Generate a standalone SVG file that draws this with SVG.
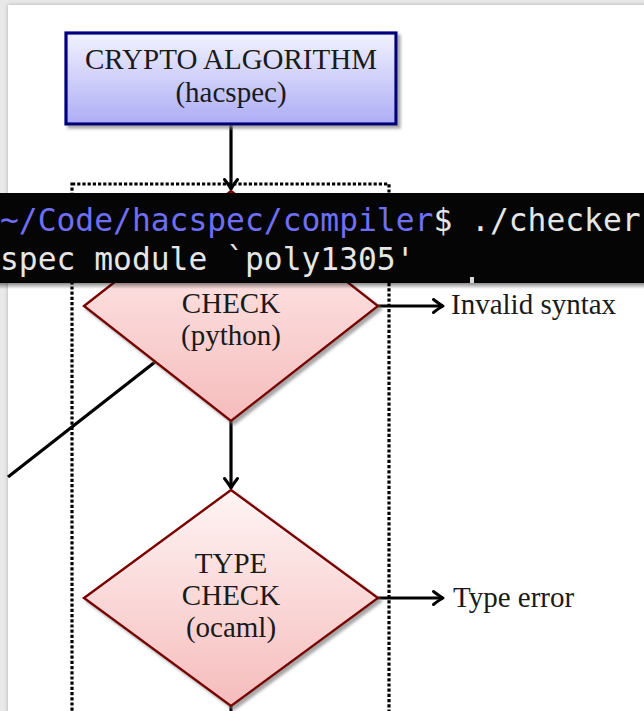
<svg xmlns="http://www.w3.org/2000/svg" width="644" height="711" viewBox="0 0 644 711">
  <defs>
    <linearGradient id="blueFill" x1="0" y1="0" x2="0" y2="1">
      <stop offset="0" stop-color="#f2f2ff"/>
      <stop offset="1" stop-color="#adadf6"/>
    </linearGradient>
    <linearGradient id="redFill" x1="0" y1="0" x2="0" y2="1">
      <stop offset="0" stop-color="#fff4f4"/>
      <stop offset="1" stop-color="#f6bcbc"/>
    </linearGradient>
    <linearGradient id="termShadow" x1="0" y1="0" x2="0" y2="1">
      <stop offset="0" stop-color="#000" stop-opacity="0.45"/>
      <stop offset="1" stop-color="#000" stop-opacity="0"/>
    </linearGradient>
    <filter id="shadow" x="-10%" y="-10%" width="125%" height="125%">
      <feDropShadow dx="3" dy="3" stdDeviation="1.5" flood-color="#808080" flood-opacity="0.7"/>
    </filter>
    <filter id="pageShadow" x="-5%" y="-5%" width="110%" height="110%">
      <feDropShadow dx="0" dy="0" stdDeviation="2" flood-color="#000" flood-opacity="0.25"/>
    </filter>
    <marker id="arrow" markerUnits="userSpaceOnUse" markerWidth="18" markerHeight="18" viewBox="-13 -9 18 18" refX="0" refY="0" orient="auto">
      <path d="M-9.5,-6.5 Q-3,-1.5 0,0 Q-3,1.5 -9.5,6.5" fill="none" stroke="#000" stroke-width="3" stroke-linecap="round" stroke-linejoin="round"/>
    </marker>
    <style>
      .serif { font-family: "Liberation Serif", "Times New Roman", serif; font-size: 29px; fill: #1a1a1a; text-anchor: middle; }
      .label { font-family: "Liberation Serif", "Times New Roman", serif; font-size: 29px; fill: #1a1a1a; }
      .mono { font-family: "DejaVu Sans Mono", "Liberation Mono", monospace; font-size: 31.3px; }
      .edge { stroke: #000; stroke-width: 3.2; fill: none; }
      .diamond { fill: url(#redFill); stroke: #7a0000; stroke-width: 2.4; }
    </style>
  </defs>

  <!-- viewer background and page -->
  <rect x="0" y="0" width="644" height="711" fill="#e9e9e9"/>
  <rect x="8" y="5" width="660" height="720" fill="#ffffff" filter="url(#pageShadow)"/>

  <!-- dotted container -->
  <g id="container">
    <rect x="72" y="184" width="317" height="560" fill="none" stroke="#000" stroke-width="3.2" stroke-dasharray="3.2 2"/>
  </g>

  <!-- connectors -->
  <g id="connectors">
    <line class="edge" x1="231" y1="124" x2="231" y2="189" marker-end="url(#arrow)"/>
    <line class="edge" x1="231" y1="421" x2="231" y2="488" marker-end="url(#arrow)"/>
    <line class="edge" x1="378" y1="306" x2="443" y2="306" marker-end="url(#arrow)"/>
    <line class="edge" x1="378" y1="598" x2="443" y2="598" marker-end="url(#arrow)"/>
    <line class="edge" x1="155" y1="362" x2="8" y2="477"/>
    <line class="edge" x1="231" y1="706" x2="231" y2="720"/>
  </g>

  <g id="node-crypto">
    <rect x="66" y="33" width="330" height="91" fill="url(#blueFill)" stroke="#00007d" stroke-width="3.2" filter="url(#shadow)"/>
    <text class="serif" x="231" y="69">CRYPTO ALGORITHM</text>
    <text class="serif" x="231" y="102">(hacspec)</text>
  </g>

  <g id="node-check">
    <polygon class="diamond" points="231,191 378,306 231,421 84,306" filter="url(#shadow)"/>
    <text class="serif" x="231" y="313">CHECK</text>
    <text class="serif" x="231" y="345">(python)</text>
  </g>

  <g id="node-typecheck">
    <polygon class="diamond" points="231,490 378,598 231,706 84,598" filter="url(#shadow)"/>
    <text class="serif" x="231" y="573">TYPE</text>
    <text class="serif" x="231" y="605">CHECK</text>
    <text class="serif" x="231" y="637">(ocaml)</text>
  </g>

  <g id="node-invalid">
    <text class="label" x="451" y="314">Invalid syntax</text>
  </g>

  <g id="node-typeerror">
    <text class="label" x="453" y="607">Type error</text>
  </g>

  <!-- terminal overlay -->
  <g id="terminal">
    <rect x="0" y="283" width="644" height="6" fill="url(#termShadow)"/>
    <rect x="0" y="193" width="644" height="90" fill="#050505"/>
    <text class="mono" x="0" y="231"><tspan fill="#6f6ff5">~/Code/hacspec/compiler</tspan><tspan fill="#e6e6e6">$ ./checker</tspan></text>
    <text class="mono" x="0" y="270" fill="#e6e6e6">spec module `poly1305'</text>
    <rect x="470" y="277" width="4" height="6" fill="#d8d8d8"/>
  </g>
</svg>
